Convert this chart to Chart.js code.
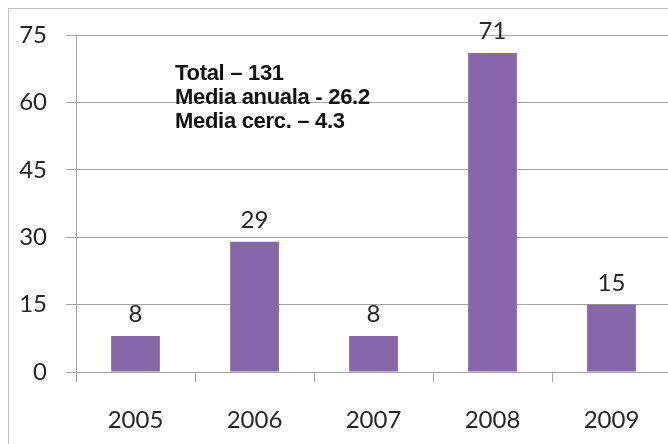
<!DOCTYPE html>
<html>
<head>
<meta charset="utf-8">
<script src="https://cdn.jsdelivr.net/npm/chart.js@4/dist/chart.umd.min.js"></script>
<style>
  html, body { margin: 0; padding: 0; background: #fff; overflow: hidden; width: 668px; height: 444px; }
  #frame { position: absolute; left: 8px; top: 8px; width: 720px; height: 500px; border: 1px solid #c4c4c4; }
  #chart { position: absolute; left: 0; top: 0; }
</style>
</head>
<body>
<div id="frame"></div>
<canvas id="chart" width="680" height="444"></canvas>
<script>
// anii si numarul de cazuri
const years = ["2005", "2006", "2007", "2008", "2009"];
const cases = [8, 29, 8, 71, 15];
const yMin = 0, yMax = 75, yStep = 15;
const summaryLines = ["Total \u2013 131", "Media anuala - 26.2", "Media cerc. \u2013 4.3"];

const barColor = "#8668a8";
const gridColor = "#a3a3a3";
const labelFont = "Lato, 'Open Sans', sans-serif";

// valoarea deasupra fiecarei coloane
const valueLabels = {
    id: "valueLabels",
    afterDatasetsDraw(chart) {
        const ctx = chart.ctx;
        const meta = chart.getDatasetMeta(0);
        ctx.save();
        ctx.font = "24px " + labelFont;
        ctx.fillStyle = "#262626";
        ctx.textAlign = "center";
        ctx.textBaseline = "alphabetic";
        meta.data.forEach((bar, i) => {
            ctx.fillText(String(cases[i]), bar.x, bar.y - 14);
        });
        ctx.restore();
    }
};

// caseta cu totalul si mediile
const summaryBox = {
    id: "summaryBox",
    afterDraw(chart) {
        const ctx = chart.ctx;
        ctx.save();
        ctx.font = "bold 22px 'Liberation Sans', Arial, sans-serif";
        ctx.letterSpacing = "-0.3px";
        ctx.fillStyle = "#111";
        ctx.textAlign = "left";
        ctx.textBaseline = "alphabetic";
        summaryLines.forEach((line, i) => {
            ctx.fillText(line, 175, 80 + i * 24);
        });
        ctx.restore();
    }
};

new Chart(document.getElementById("chart"), {
    type: "bar",
    data: {
        labels: years,
        datasets: [{
            data: cases,
            backgroundColor: barColor,
            borderWidth: 0,
            categoryPercentage: 1,
            barPercentage: 0.41
        }]
    },
    options: {
        responsive: false,
        animation: false,
        layout: { padding: { top: 35, right: 9, left: 0, bottom: 0 } },
        plugins: {
            legend: { display: false },
            tooltip: { enabled: false }
        },
        scales: {
            x: {
                afterFit: s => { s.height = 72; },
                grid: {
                    offset: true,
                    drawOnChartArea: false,
                    drawTicks: true,
                    tickLength: 10,
                    color: gridColor
                },
                border: { display: true, color: gridColor },
                ticks: {
                    color: "#262626",
                    padding: 24,
                    font: { family: labelFont, size: 24 }
                }
            },
            y: {
                min: yMin,
                max: yMax,
                afterFit: s => { s.width = 76; },
                grid: {
                    color: gridColor,
                    drawTicks: true,
                    tickLength: 10
                },
                border: { display: true, color: gridColor },
                ticks: {
                    stepSize: yStep,
                    color: "#262626",
                    padding: 19,
                    font: { family: labelFont, size: 24 }
                }
            }
        }
    },
    plugins: [valueLabels, summaryBox]
});
</script>
</body>
</html>
